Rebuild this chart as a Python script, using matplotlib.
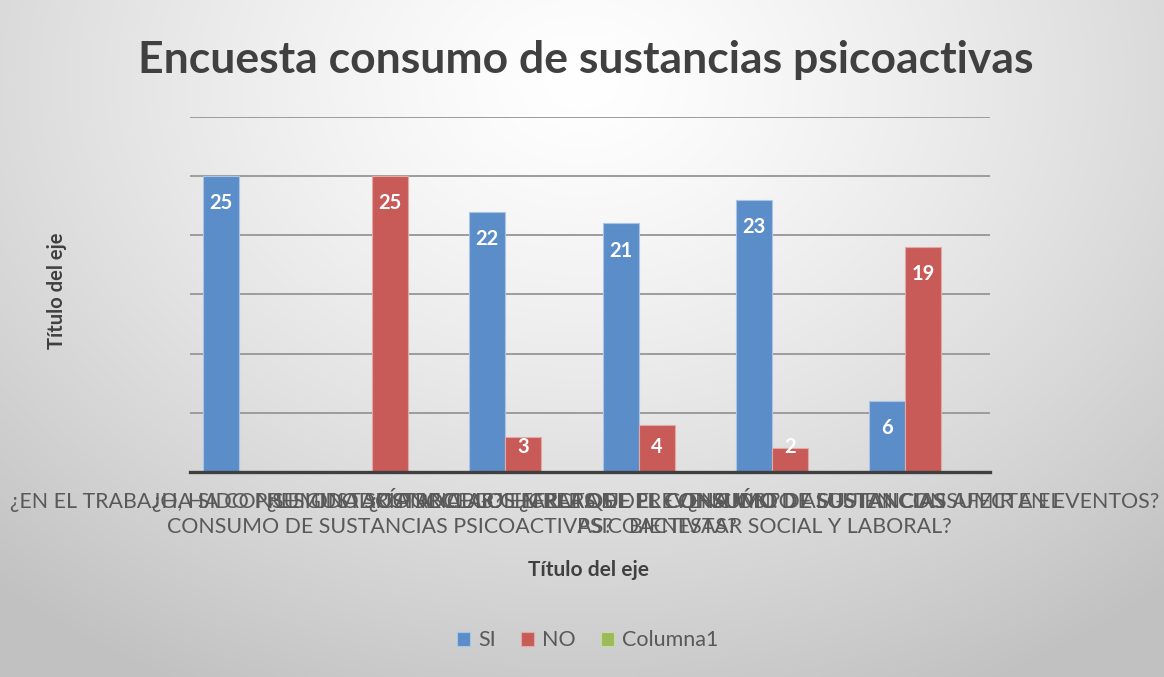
import numpy as np
import matplotlib.pyplot as plt

plt.rcParams['font.family'] = ['Lato', 'DejaVu Sans']

# preguntas de la encuesta (las etiquetas se montan unas sobre otras, como en el original)
preguntas = [
    "¿EN EL TRABAJO, HA CONSUMIDO SUSTANCIAS?",
    "¿HA SIDO PRESIONADO POR ALGUIEN PARA EL\nCONSUMO DE SUSTANCIAS PSICOACTIVAS?",
    "¿LE GUSTARÍA RECIBIR CHARLAS DE PREVENCIÓN?",
    "¿CONOCE LOS EFECTOS DEL CONSUMO DE SUSTANCIAS\nPSICOACTIVAS?",
    "¿CREE QUE EL CONSUMO DE SUSTANCIAS AFECTA EL\nBIENESTAR SOCIAL Y LABORAL?",
    "¿HA VISTO ALGUIEN CONSUMIR EN EVENTOS?",
]
si = [25, None, 22, 21, 23, 6]
no = [None, 25, 3, 4, 2, 19]
columna1 = [None, None, None, None, None, None]

series = ["SI", "NO", "Columna1"]
colores = ["#5b8dc8", "#c85a57", "#9bbb59"]
bordes = ["#a9c4e6", "#e3a9a7", "#c8dba6"]

fig = plt.figure(figsize=(11.64, 6.77), dpi=100)

# fondo degradado radial
bg = fig.add_axes([0, 0, 1, 1], zorder=-1)
yy, xx = np.mgrid[0:1:300j, 0:1:500j]
r = np.sqrt(((xx - 0.5) / 0.75) ** 2 + ((yy - 0.12) / 1.0) ** 2)
g = 1.0 - 0.24 * np.clip(r, 0, 1) ** 1.3
bg.imshow(np.dstack([g, g, g]), extent=[0, 1, 0, 1], aspect='auto', origin='upper')
bg.axis('off')

ax = fig.add_axes([0.1632, 0.3028, 0.6873, 0.5244])
ax.set_facecolor('none')

x = np.arange(len(preguntas))
w = 0.27
for i, (vals, col, ed, nom) in enumerate(zip([si, no, columna1], colores, bordes, series)):
    v = np.array([np.nan if a is None else a for a in vals], dtype=float)
    pos = x + (i - 1) * w
    ax.bar(pos, v, width=w, color=col, edgecolor=ed, linewidth=0.8, label=nom, zorder=3)
    for px, val in zip(pos, v):
        if np.isnan(val):
            continue
        ax.text(px, max(val - 2.3, 2.1), f"{val:.0f}", ha='center', va='center',
                color='white', fontsize=14.5, fontweight='bold', zorder=4)

ax.set_ylim(0, 30)
ax.set_xlim(-0.5, len(preguntas) - 0.5)
ax.set_yticks(np.arange(0, 31, 5))
ax.set_yticklabels([])
ax.tick_params(axis='y', length=0)
ax.yaxis.grid(True, color='#9c9c9c', linewidth=1.4, zorder=0)
ax.set_axisbelow(True)

# etiquetas de categoria a mano, para que la primera linea quede a la misma altura
ax.set_xticks(x)
ax.set_xticklabels([])
ax.tick_params(axis='x', length=0)
for xi, q in zip(x, preguntas):
    for j, linea in enumerate(q.split("\n")):
        ax.annotate(linea, xy=(xi, 0), xycoords=('data', 'axes fraction'),
                    xytext=(0, -26 - j * 18), textcoords='offset points',
                    ha='center', va='baseline', fontsize=15.4, color='#595959',
                    annotation_clip=False)

for s in ['top', 'right', 'left']:
    ax.spines[s].set_visible(False)
ax.spines['bottom'].set_color('#404040')
ax.spines['bottom'].set_linewidth(2.4)
ax.spines['bottom'].set_zorder(5)

fig.text(0.503, 0.912, "Encuesta consumo de sustancias psicoactivas", ha='center', va='center',
         fontsize=32, fontweight='bold', color='#404040')
fig.text(0.049, 0.57, "Título del eje", rotation=90, ha='center', va='center',
         fontsize=14.5, fontweight='bold', color='#404040')
fig.text(0.506, 0.158, "Título del eje", ha='center', va='center',
         fontsize=15, fontweight='bold', color='#404040')

fig.legend(loc='center', bbox_to_anchor=(0.505, 0.054), ncol=3, frameon=False,
           fontsize=15.5, handlelength=0.6, handleheight=0.6, handletextpad=0.35,
           columnspacing=1.2, labelcolor='#595959')

fig.savefig("out.png", dpi=100)
